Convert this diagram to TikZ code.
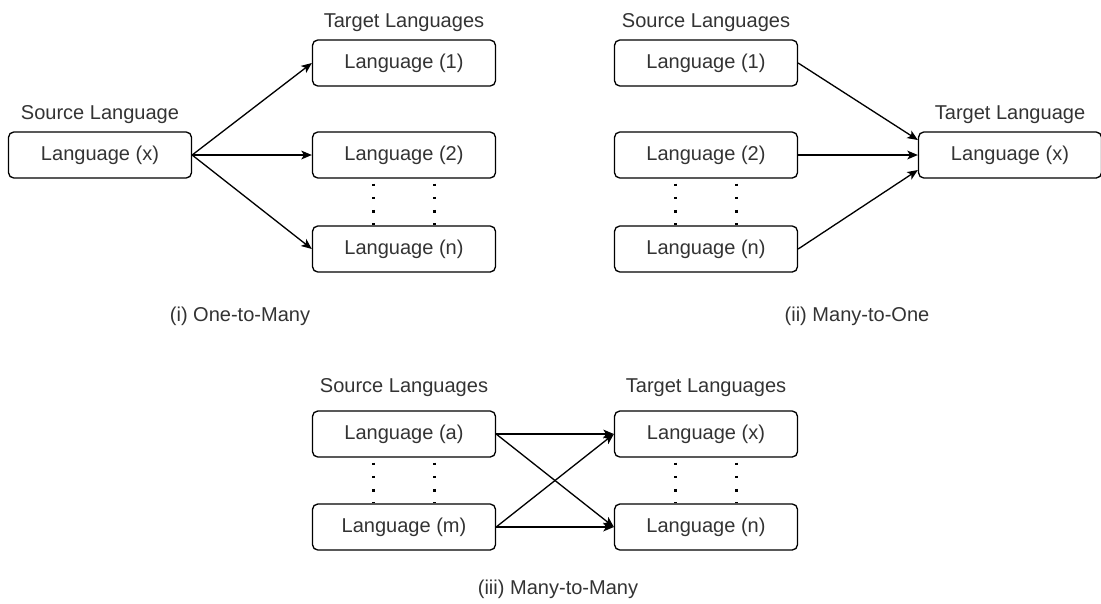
\documentclass[tikz,border=0pt]{standalone}
\usepackage{fontspec}
\setmainfont{Liberation Sans}
\usepackage{tikz}
\usetikzlibrary{arrows.meta}

\begin{document}
\begin{tikzpicture}[x=0.02cm, y=-0.02cm,
  font=\fontsize{11.4}{13.7}\selectfont,
  langbox/.style={draw, rounded corners=3pt, line width=0.75pt, text=black!80,
    minimum width=3.66cm, minimum height=0.92cm, inner sep=0pt},
  hdr/.style={text=black!80, inner sep=0pt},
  link/.style={-{Stealth[length=6pt, width=5pt, inset=1.5pt]}, line width=0.75pt},
  gap/.style={line width=1.4pt, dash pattern=on 1.5pt off 6pt, dash phase=4.7pt}]
\useasboundingbox (0,0) rectangle (1101,603);

% (i) one to many
\node[hdr] (hsrcA) at (100,115) {Source Language};
\node[langbox] (srcA) at (100,155) {Language (x)};
\node[hdr] (htgtA) at (404,23) {Target Languages};
\node[langbox] (tgtA1) at (404,63) {Language (1)};
\node[langbox] (tgtA2) at (404,155) {Language (2)};
\node[langbox] (tgtAn) at (404,249) {Language (n)};
\draw[link] (srcA.east) -- (tgtA1.west);
\draw[link] (srcA.east) -- (tgtA2.west);
\draw[link] (srcA.east) -- (tgtAn.west);
\draw[gap] ([xshift=-0.61cm]tgtA2.south) -- ([xshift=-0.61cm]tgtAn.north);
\draw[gap] ([xshift=0.61cm]tgtA2.south) -- ([xshift=0.61cm]tgtAn.north);
\node[hdr] (capA) at (240,316) {(i) One-to-Many};

% (ii) many to one
\node[hdr] (hsrcB) at (706,23) {Source Languages};
\node[langbox] (srcB1) at (706,63) {Language (1)};
\node[langbox] (srcB2) at (706,155) {Language (2)};
\node[langbox] (srcBn) at (706,249) {Language (n)};
\node[hdr] (htgtB) at (1010,115) {Target Language};
\node[langbox] (tgtB) at (1010,155) {Language (x)};
\draw[link] (srcB1.east) -- ([yshift=0.3cm]tgtB.west);
\draw[link] (srcB2.east) -- (tgtB.west);
\draw[link] (srcBn.east) -- ([yshift=-0.3cm]tgtB.west);
\draw[gap] ([xshift=-0.61cm]srcB2.south) -- ([xshift=-0.61cm]srcBn.north);
\draw[gap] ([xshift=0.61cm]srcB2.south) -- ([xshift=0.61cm]srcBn.north);
\node[hdr] (capB) at (857,316) {(ii) Many-to-One};

% (iii) many to many
\node[hdr] (hsrcC) at (404,388) {Source Languages};
\node[langbox] (srcCa) at (404,434) {Language (a)};
\node[langbox] (srcCm) at (404,527) {Language (m)};
\node[hdr] (htgtC) at (706,388) {Target Languages};
\node[langbox] (tgtCx) at (706,434) {Language (x)};
\node[langbox] (tgtCn) at (706,527) {Language (n)};
\draw[link] (srcCa.east) -- (tgtCx.west);
\draw[link] (srcCa.east) -- (tgtCn.west);
\draw[link] (srcCm.east) -- (tgtCx.west);
\draw[link] (srcCm.east) -- (tgtCn.west);
\draw[gap] ([xshift=-0.61cm]srcCa.south) -- ([xshift=-0.61cm]srcCm.north);
\draw[gap] ([xshift=0.61cm]srcCa.south) -- ([xshift=0.61cm]srcCm.north);
\draw[gap] ([xshift=-0.61cm]tgtCx.south) -- ([xshift=-0.61cm]tgtCn.north);
\draw[gap] ([xshift=0.61cm]tgtCx.south) -- ([xshift=0.61cm]tgtCn.north);
\node[hdr] (capC) at (558,589) {(iii) Many-to-Many};
\end{tikzpicture}
\end{document}
